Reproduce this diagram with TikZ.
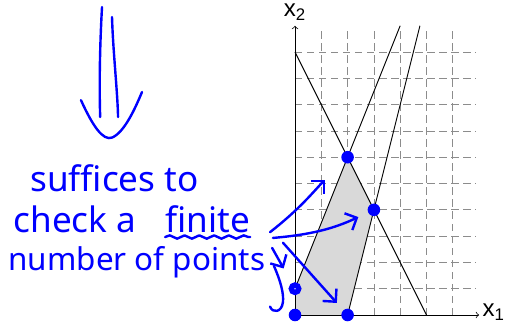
\documentclass[tikz,border=0pt]{standalone}
\usepackage{fontspec}
\newfontfamily\handfont{Noto Sans}
\newfontfamily\axisfont{Liberation Sans}
\usetikzlibrary{arrows.meta,decorations.pathmorphing}

\begin{document}
\begin{tikzpicture}[scale=0.5, >=to,
    gridline/.style={dash pattern=on 4pt off 2.5pt, black!45, thin},
    bound/.style={black, line width=0.5pt},
    hand/.style={blue, line width=1.3pt, line cap=round, line join=round},
    handarrow/.style={hand, -{Straight Barb[length=5pt, width=10pt]}},
    handtext/.style={blue, font=\handfont\fontsize{19}{22}\selectfont, anchor=base west, inner sep=0pt},
    axislabel/.style={font=\axisfont\fontsize{13}{15}\selectfont, inner sep=1pt},
    dot/.style={circle, fill=blue, inner sep=0pt, minimum size=6.8pt},
    hollowdot/.style={circle, draw=blue, fill=white, line width=2.9pt, inner sep=0pt, minimum size=4pt}]
    \useasboundingbox (-11.22,-0.34) rectangle (8.10,11.98);

    % grid and feasible region
    \draw[gridline] (0,0) grid (6.9,10.95);
    \fill[gray!30] (0,0) -- (2,0) -- (3,4) -- (2,6) -- (0,1) -- cycle;
    \draw[bound] (0,10) -- (5,0);
    \draw[bound] (0,1) -- (4,11);
    \draw[bound] (2,0) -- (4.75,11);

    % axes
    \draw[->, thin] (0,0) -- (7,0);
    \draw[->, thin] (0,0) -- (0,11);
    \node[axislabel, right] (lx1) at (7.05,0.1) {x\textsubscript{1}};
    \node[axislabel, above] (lx2) at (0,11.1) {x\textsubscript{2}};

    % vertices
    \node[dot] (vO) at (0,0) {};
    \node[dot] (vA) at (2,0) {};
    \node[dot] (vB) at (3,4) {};
    \node[dot] (vC) at (2,6) {};
    \node[hollowdot] (vD) at (0,1) {};

    % implication arrow
    \draw[hand] (-7.34,11.71) .. controls (-7.42,10.3) and (-7.45,8.8) .. (-7.41,7.53);
    \draw[hand] (-6.96,11.33) .. controls (-6.92,10.0) and (-6.75,8.5) .. (-6.73,7.53);
    \draw[hand] (-8.14,8.17) .. controls (-7.7,7.2) and (-7.3,6.6) .. (-6.95,6.75)
        .. controls (-6.5,6.95) and (-6.1,7.8) .. (-5.82,8.48);

    % handwritten note
    \node[handtext] (t1) at (-10.08,4.68) {suffices to};
    \node[handtext] (t2) at (-10.72,3.12) {check a};
    \node[handtext] (t3) at (-4.94,3.12) {finite};
    \node[handtext, font=\handfont\fontsize{17}{20}\selectfont] (t4) at (-10.91,1.71) {number of points};
    \draw[hand, decorate, decoration={snake, amplitude=0.9pt, segment length=8pt}]
        ([yshift=-4.4pt]t3.base west) -- ([yshift=-4.4pt]t3.base east);

    \coordinate (s1) at (-0.95,3.15);
    \coordinate (s2) at (-0.84,2.93);
    \coordinate (s3) at (-0.46,2.75);
    \coordinate (s4) at (-0.87,2.55);
    \coordinate (s5) at (-0.80,1.86);

    \draw[handarrow, shorten >=0.48cm] (s1) to[out=38, in=225] (vC);
    \draw[handarrow, shorten >=0.2cm] (s2) to[out=5, in=205] (vB);
    \draw[handarrow, shorten >=0.18cm] (s3) -- (vA);
    \draw[handarrow, shorten >=0.32cm] (s4) -- (vD);
    \draw[hand] (s5) .. controls (-0.55,1.3) and (-0.42,0.8) .. (-0.46,0.49)
        .. controls (-0.5,0.1) and (-0.85,0.05) .. (-0.95,0.32);
\end{tikzpicture}
\end{document}
